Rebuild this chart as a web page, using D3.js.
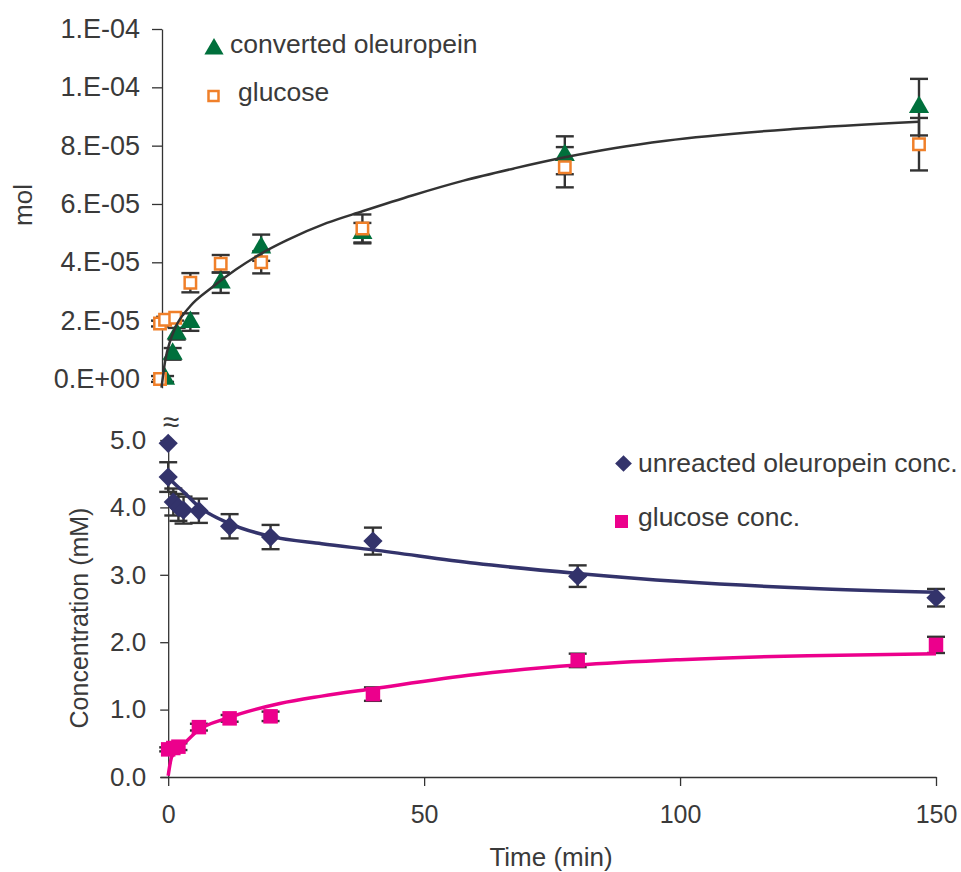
<!DOCTYPE html>
<html>
<head>
<meta charset="utf-8">
<script src="https://cdn.jsdelivr.net/npm/d3@7"></script>
<style>
  body { margin: 0; background: #fff; }
  text { font-family: "Liberation Sans", Arial, sans-serif; fill: #3a3a3a; }
</style>
</head>
<body>
<div id="root"></div>
<script>
// ---- top panel (mol, values in units of 1e-5) ----
var triTimes = [1, 2.5, 3.3, 6, 12, 20, 40, 80, 150];
var convertedOle = [0, 0.86, 1.55, 1.95, 3.3, 4.5, 5.0, 7.67, 9.32];
var convertedOleErr = [0.1, 0.2, 0.2, 0.3, 0.35, 0.45, 0.35, 0.65, 0.97];

var sqTimes = [0, 0, 1, 3, 6, 12, 20, 40, 80, 150];
var glucoseMol = [0, 1.9, 2.03, 2.1, 3.3, 3.95, 4.0, 5.16, 7.26, 8.05];
var glucoseMolErr = [0.1, 0.1, 0.1, 0.1, 0.33, 0.3, 0.38, 0.48, 0.69, 0.9];

var topFitTimes = [0.3, 1, 2, 3, 6, 10, 15, 20, 25, 33, 40, 50, 60, 70, 80, 90, 100, 125, 150];
var topFit = [-0.3, 0.6, 1.3, 1.75, 2.5, 3.1, 3.75, 4.3, 4.75, 5.35, 5.75, 6.3, 6.8, 7.22, 7.6, 7.92, 8.17, 8.57, 8.82];

var topTicks = [0, 2, 4, 6, 8, 10, 12];
var topTickLabels = ["0.E+00", "2.E-05", "4.E-05", "6.E-05", "8.E-05", "1.E-04", "1.E-04"];

// ---- bottom panel (mM) ----
var oleTimes = [0, 0, 1, 2, 3, 6, 12, 20, 40, 80, 150];
var unreactedOle = [4.95, 4.45, 4.08, 4.0, 3.96, 3.95, 3.72, 3.56, 3.5, 2.98, 2.66];
var unreactedOleErr = [0, 0.22, 0.2, 0.2, 0.2, 0.18, 0.18, 0.18, 0.2, 0.16, 0.13];

var gluTimes = [0, 1, 2, 6, 12, 20, 40, 80, 150];
var glucoseConc = [0.41, 0.43, 0.45, 0.74, 0.87, 0.9, 1.23, 1.73, 1.96];
var glucoseConcErr = [0.03, 0.04, 0.05, 0.05, 0.05, 0.07, 0.1, 0.1, 0.12];

var oleFitTimes = [0, 1, 3, 6, 12, 20, 30, 40, 60, 80, 100, 125, 150];
var oleFit = [4.45, 4.37, 4.23, 4.01, 3.76, 3.57, 3.46, 3.37, 3.17, 3.02, 2.9, 2.8, 2.74];

var gluFitTimes = [0, 0.7, 2.3, 6, 11.4, 21.8, 30, 40, 60, 80, 100, 125, 150];
var gluFit = [0.02, 0.3, 0.43, 0.7, 0.87, 1.09, 1.2, 1.31, 1.52, 1.66, 1.74, 1.8, 1.83];

var botTicks = [0, 1, 2, 3, 4, 5];
var timeTicks = [0, 50, 100, 150];

var width = 961, height = 872;
var ink = '#333333';
var green = '#00703c', orange = '#f0802a', navy = '#33336b', pink = '#ec008c';

var svg = d3.select('#root').append('svg')
  .attr('width', width)
  .attr('height', height);

function zip(xs, ys, es) {
  return xs.map(function(x, i) { return {t: x, v: ys[i], e: es ? es[i] : 0}; });
}

// scales
var xTop = d3.scaleLinear().domain([0, 150]).range([160, 919]);
var yTop = d3.scaleLinear().domain([-0.3, 12]).range([387.7, 29]);
var xBot = d3.scaleLinear().domain([-1.6, 150]).range([160, 936]);
var yBot = d3.scaleLinear().domain([0, 5]).range([777, 440]);

function styleAxis(g, size) {
  g.selectAll('path, line').attr('stroke', ink).attr('stroke-width', 1.3);
  g.selectAll('text').attr('font-size', size).attr('fill', '#3a3a3a')
    .attr('font-family', '"Liberation Sans", Arial, sans-serif');
}

// axes
var gTopY = svg.append('g').attr('transform', 'translate(162,0)')
  .call(d3.axisLeft(yTop).tickValues(topTicks).tickSize(10).tickSizeOuter(0).tickPadding(12)
    .tickFormat(function(d, i) { return topTickLabels[i]; }));
styleAxis(gTopY, 27);

var gBotY = svg.append('g').attr('transform', 'translate(' + xBot(0) + ',0)')
  .call(d3.axisLeft(yBot).tickValues(botTicks).tickSize(8).tickSizeOuter(0).tickPadding(14)
    .tickFormat(d3.format('.1f')));
styleAxis(gBotY, 26);

var gBotX = svg.append('g').attr('transform', 'translate(0,' + yBot(0) + ')')
  .call(d3.axisBottom(xBot).tickValues(timeTicks).tickSize(9).tickSizeOuter(0).tickPadding(19));
styleAxis(gBotX, 25);

// axis break mark
svg.append('text').attr('x', 171).attr('y', 432).attr('text-anchor', 'middle')
  .attr('font-size', 30).text('\u2248');

// titles
svg.append('text').attr('transform', 'translate(23,205) rotate(-90)')
  .attr('text-anchor', 'middle').attr('dy', '0.35em').attr('font-size', 26).text('mol');
svg.append('text').attr('transform', 'translate(79,618) rotate(-90)')
  .attr('text-anchor', 'middle').attr('dy', '0.35em').attr('font-size', 25).text('Concentration (mM)');
svg.append('text').attr('x', 551).attr('y', 866)
  .attr('text-anchor', 'middle').attr('font-size', 26).text('Time (min)');

// error bars
function errorBars(data, x, y) {
  var g = svg.append('g').attr('stroke', ink).attr('stroke-width', 2.4).attr('fill', 'none');
  data.filter(function(d) { return d.e > 0; }).forEach(function(d) {
    var cx = x(d.t), y0 = y(d.v - d.e), y1 = y(d.v + d.e);
    g.append('line').attr('x1', cx).attr('x2', cx).attr('y1', y0).attr('y2', y1);
    g.append('line').attr('x1', cx - 9).attr('x2', cx + 9).attr('y1', y0).attr('y2', y0);
    g.append('line').attr('x1', cx - 9).attr('x2', cx + 9).attr('y1', y1).attr('y2', y1);
  });
}

function markers(data, x, y, type, size, fill, stroke, rotate) {
  svg.append('g').selectAll('path')
    .data(data)
    .enter()
    .append('path')
      .attr('d', d3.symbol().type(type).size(size))
      .attr('transform', function(d) {
        return 'translate(' + x(d.t) + ',' + y(d.v) + ')' + (rotate ? ' rotate(45)' : '');
      })
      .attr('fill', fill)
      .attr('stroke', stroke || 'none')
      .attr('stroke-width', stroke ? 2.5 : 0);
}

function fitLine(data, x, y, color, w) {
  svg.append('path')
    .datum(data)
    .attr('fill', 'none')
    .attr('stroke', color)
    .attr('stroke-width', w)
    .attr('d', d3.line().curve(d3.curveMonotoneX)
      .x(function(d) { return x(d.t); })
      .y(function(d) { return y(d.v); }));
}

// top panel
var triData = zip(triTimes, convertedOle, convertedOleErr);
var sqData = zip(sqTimes, glucoseMol, glucoseMolErr);
errorBars(triData, xTop, yTop);
errorBars(sqData, xTop, yTop);
markers(triData, xTop, yTop, d3.symbolTriangle, 175, green);
markers(sqData, xTop, yTop, d3.symbolSquare, 130, '#fff', orange);
fitLine(zip(topFitTimes, topFit), xTop, yTop, ink, 2.5);

// bottom panel
var oleData = zip(oleTimes, unreactedOle, unreactedOleErr);
var gluData = zip(gluTimes, glucoseConc, glucoseConcErr);
errorBars(oleData, xBot, yBot);
errorBars(gluData, xBot, yBot);
fitLine(zip(oleFitTimes, oleFit), xBot, yBot, navy, 3.5);
fitLine(zip(gluFitTimes, gluFit), xBot, yBot, pink, 3.5);
markers(oleData, xBot, yBot, d3.symbolSquare, 185, navy, null, true);
markers(gluData, xBot, yBot, d3.symbolSquare, 210, pink);

// legends
function legendItem(cx, cy, type, size, fill, stroke, rotate, tx, ty, label) {
  svg.append('path')
    .attr('d', d3.symbol().type(type).size(size))
    .attr('transform', 'translate(' + cx + ',' + cy + ')' + (rotate ? ' rotate(45)' : ''))
    .attr('fill', fill)
    .attr('stroke', stroke || 'none')
    .attr('stroke-width', stroke ? 2.5 : 0);
  svg.append('text').attr('x', tx).attr('y', ty).attr('font-size', 26.5).text(label);
}
legendItem(214, 49, d3.symbolTriangle, 160, green, null, false, 230, 53, 'converted oleuropein');
legendItem(213.5, 96, d3.symbolSquare, 100, '#fff', orange, false, 238, 101, 'glucose');
legendItem(623.5, 463.5, d3.symbolSquare, 140, navy, null, true, 638, 472, 'unreacted oleuropein conc.');
legendItem(621.5, 521.5, d3.symbolSquare, 169, pink, null, false, 638, 526, 'glucose conc.');
</script>
</body>
</html>
